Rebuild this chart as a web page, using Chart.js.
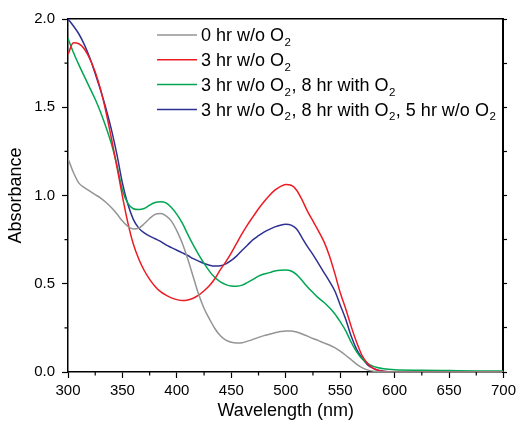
<!DOCTYPE html>
<html>
<head>
<meta charset="utf-8">
<script src="https://cdn.jsdelivr.net/npm/chart.js@4/dist/chart.umd.min.js"></script>
<style>
  html, body { margin: 0; padding: 0; background: #fff; }
  #wrap { width: 520px; height: 422px; }
</style>
</head>
<body>
<div id="wrap"><canvas id="cSpec" width="520" height="422"></canvas></div>
<script>
// wavelength grid (nm)
const wavelengths = [
  300, 305, 310, 315, 320, 325, 330, 335, 340, 345,
  350, 355, 360, 365, 370, 375, 380, 385, 390, 395,
  400, 405, 410, 415, 420, 425, 430, 435, 440, 445,
  450, 455, 460, 465, 470, 475, 480, 485, 490, 495,
  500, 505, 510, 515, 520, 525, 530, 535, 540, 545,
  550, 555, 560, 565, 570, 575, 580, 585, 590,
  600, 625, 650, 675, 700
];

const seriesLabels = [
  '0 hr w/o O₂',
  '3 hr w/o O₂',
  '3 hr w/o O₂, 8 hr with O₂',
  '3 hr w/o O₂, 8 hr with O₂, 5 hr w/o O₂'
];

const abs0hr = [
  1.21, 1.13, 1.07, 1.045, 1.025, 1.005, 0.985, 0.96, 0.93, 0.895,
  0.855, 0.825, 0.81, 0.815, 0.84, 0.87, 0.893, 0.898, 0.885, 0.855,
  0.80, 0.73, 0.64, 0.54, 0.44, 0.36, 0.30, 0.245, 0.205, 0.18,
  0.168, 0.164, 0.166, 0.175, 0.185, 0.196, 0.206, 0.214, 0.222, 0.229,
  0.233, 0.232, 0.227, 0.215, 0.203, 0.19, 0.178, 0.165, 0.153, 0.138,
  0.118, 0.095, 0.07, 0.045, 0.025, 0.012, 0.005, 0.002, 0,
  0, 0, 0, 0, 0
];

const abs3hr = [
  1.80, 1.865, 1.86, 1.83, 1.775, 1.70, 1.60, 1.47, 1.32, 1.16,
  0.995, 0.845, 0.725, 0.64, 0.575, 0.525, 0.485, 0.455, 0.435, 0.42,
  0.41, 0.405, 0.408, 0.418, 0.435, 0.46, 0.49, 0.53, 0.58, 0.625,
  0.675, 0.73, 0.785, 0.835, 0.88, 0.925, 0.965, 1.0, 1.03, 1.05,
  1.062, 1.058, 1.03, 0.975, 0.91, 0.855, 0.80, 0.74, 0.66, 0.56,
  0.45, 0.36, 0.26, 0.17, 0.095, 0.05, 0.022, 0.008, 0.003,
  0, 0, 0, 0, 0
];

const abs3hr8hrO2 = [
  1.89, 1.81, 1.74, 1.675, 1.61, 1.545, 1.47, 1.385, 1.29, 1.17,
  1.03, 0.955, 0.925, 0.92, 0.926, 0.945, 0.96, 0.965, 0.958, 0.932,
  0.893, 0.843, 0.78, 0.72, 0.665, 0.615, 0.57, 0.535, 0.51, 0.495,
  0.487, 0.486, 0.492, 0.508, 0.525, 0.543, 0.555, 0.563, 0.572, 0.577,
  0.578, 0.572, 0.552, 0.518, 0.482, 0.45, 0.42, 0.395, 0.365, 0.33,
  0.285, 0.235, 0.17, 0.115, 0.075, 0.05, 0.033, 0.024, 0.018,
  0.013, 0.01, 0.008, 0.006, 0.005
];

const abs3hr8hrO25hr = [
  2.00, 1.96, 1.915, 1.855, 1.78, 1.69, 1.595, 1.49, 1.37, 1.23,
  1.07, 0.95, 0.865, 0.815, 0.788, 0.77, 0.755, 0.74, 0.72, 0.705,
  0.69, 0.675, 0.66, 0.642, 0.628, 0.615, 0.605, 0.600, 0.602, 0.613,
  0.632, 0.658, 0.69, 0.72, 0.75, 0.772, 0.792, 0.808, 0.822, 0.832,
  0.837, 0.832, 0.81, 0.76, 0.71, 0.665, 0.615, 0.565, 0.515, 0.46,
  0.38, 0.30, 0.205, 0.13, 0.08, 0.042, 0.022, 0.01, 0.004,
  0, 0, 0, 0, 0
];

const seriesColors = ['#949494', '#ed1c24', '#00a651', '#2e3192'];

// minor tick positions
const xMinorTicks = [325, 375, 425, 475, 525, 575, 625, 675];
const yMinorTicks = [0.25, 0.75, 1.25, 1.75];

const FONT = '"Liberation Sans", Arial, Helvetica, sans-serif';

const toPoints = vals => vals.map((v, i) => ({ x: wavelengths[i], y: v }));

// legend inside plot, with subscript 2
const legendInside = {
  id: 'legendInside',
  afterDraw(chart) {
    const ctx = chart.ctx;
    ctx.save();
    chart.data.datasets.forEach((ds, i) => {
      const y = 35 + i * 24.8;
      ctx.strokeStyle = ds.borderColor;
      ctx.lineWidth = 1.5;
      ctx.beginPath();
      ctx.moveTo(157, y);
      ctx.lineTo(197, y);
      ctx.stroke();

      ctx.fillStyle = '#000';
      ctx.textBaseline = 'alphabetic';
      ctx.textAlign = 'left';
      let x = 201;
      const parts = ds.label.split('₂');
      parts.forEach((p, k) => {
        ctx.font = '18px ' + FONT;
        ctx.fillText(p, x, y + 6.3);
        x += ctx.measureText(p).width;
        if (k < parts.length - 1) {
          ctx.font = '11.5px ' + FONT;
          ctx.fillText('2', x + 0.5, y + 11);
          x += ctx.measureText('2').width + 1;
        }
      });
    });
    ctx.restore();
  }
};

// short minor ticks on bottom and left axes
const minorTicks = {
  id: 'minorTicks',
  afterDraw(chart) {
    const ctx = chart.ctx;
    const xs = chart.scales.x, ys = chart.scales.y;
    const bottom = chart.chartArea.bottom, left = chart.chartArea.left;
    ctx.save();
    ctx.strokeStyle = '#000';
    ctx.lineWidth = 1.2;
    ctx.beginPath();
    xMinorTicks.forEach(v => {
      const px = xs.getPixelForValue(v);
      ctx.moveTo(px, bottom);
      ctx.lineTo(px, bottom + 3.5);
    });
    yMinorTicks.forEach(v => {
      const py = ys.getPixelForValue(v);
      ctx.moveTo(left, py);
      ctx.lineTo(left - 3.5, py);
    });
    ctx.stroke();
    ctx.restore();
  }
};

const allSeries = [abs0hr, abs3hr, abs3hr8hrO2, abs3hr8hrO25hr];

new Chart(document.getElementById('cSpec'), {
  type: 'line',
  data: {
    datasets: allSeries.map((vals, i) => ({
      label: seriesLabels[i],
      data: toPoints(vals),
      borderColor: seriesColors[i],
      borderWidth: 1.5,
      pointRadius: 0,
      fill: false,
      cubicInterpolationMode: 'monotone'
    }))
  },
  options: {
    responsive: false,
    animation: false,
    devicePixelRatio: 1,
    layout: { padding: 0 },
    plugins: { legend: { display: false }, tooltip: { enabled: false } },
    scales: {
      x: {
        type: 'linear', position: 'bottom', min: 300, max: 700,
        ticks: { stepSize: 50, color: '#000', padding: 4, font: { size: 15, family: FONT } },
        grid: { drawOnChartArea: false, tickLength: 6, tickColor: '#000', tickWidth: 1.2 },
        border: { color: '#000', width: 1.5 },
        title: { display: true, text: 'Wavelength (nm)', color: '#000', padding: 0, font: { size: 18, family: FONT } },
        afterFit: s => { s.height = 50; }
      },
      xTop: {
        type: 'linear', position: 'top', min: 300, max: 700,
        ticks: { display: false },
        grid: { drawOnChartArea: false, drawTicks: false },
        border: { color: '#000', width: 1.5 },
        afterFit: s => { s.height = 19; }
      },
      y: {
        type: 'linear', position: 'left', min: 0, max: 2,
        ticks: { stepSize: 0.5, color: '#000', padding: 7, font: { size: 15, family: FONT },
                 callback: v => v.toFixed(1) },
        grid: { drawOnChartArea: false, tickLength: 6, tickColor: '#000', tickWidth: 1.2 },
        border: { color: '#000', width: 1.5 },
        title: { display: true, text: 'Absorbance', color: '#000', padding: { top: 5.5, bottom: 0 }, font: { size: 18, family: FONT } },
        afterFit: s => { s.width = 68; }
      },
      yRight: {
        type: 'linear', position: 'right', min: 0, max: 2,
        ticks: { display: false, stepSize: 0.25 },
        grid: { drawOnChartArea: false, tickLength: 3.5, tickColor: '#000', tickWidth: 1.2 },
        border: { color: '#000', width: 2 },
        afterFit: s => { s.width = 15; }
      }
    }
  },
  plugins: [legendInside, minorTicks]
});
</script>
</body>
</html>
